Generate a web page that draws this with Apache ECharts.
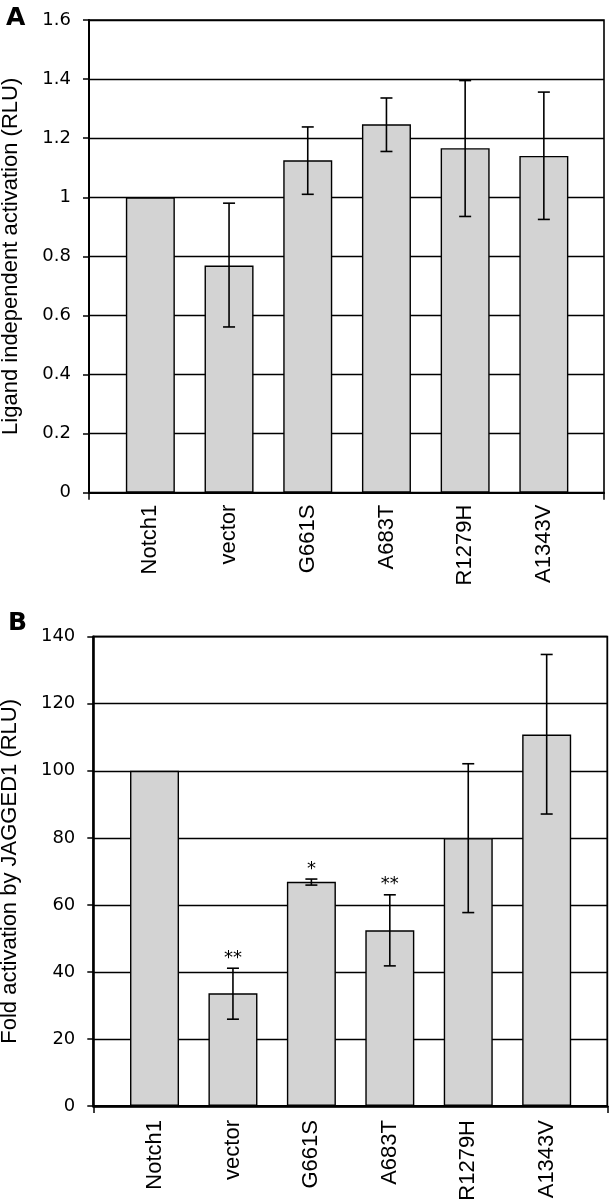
<!DOCTYPE html>
<html>
<head>
<meta charset="utf-8">
<script src="https://cdn.jsdelivr.net/npm/echarts@6/dist/echarts.min.js"></script>
<style>
html,body{margin:0;padding:0;background:#fff;}
#chart{width:610px;height:1199px;}
</style>
</head>
<body>
<div id="chart"></div>
<script>
const categories = ['Notch1', 'vector', 'G661S', 'A683T', 'R1279H', 'A1343V'];

// Panel A: ligand independent activation (RLU)
const valuesA = [1.0, 0.769, 1.125, 1.247, 1.166, 1.14];
const errLowA = [null, 0.561, 1.01, 1.155, 0.935, 0.925];
const errHighA = [null, 0.98, 1.238, 1.336, 1.395, 1.356];
const yTicksA = [0, 0.2, 0.4, 0.6, 0.8, 1, 1.2, 1.4, 1.6];

// Panel B: fold activation by JAGGED1 (RLU)
const valuesB = [100, 33.6, 66.9, 52.4, 79.9, 110.8];
const errLowB = [null, 25.9, 65.9, 41.8, 57.7, 87.1];
const errHighB = [null, 41.1, 67.7, 63.0, 102.1, 134.7];
const starsB = ['', '**', '*', '**', '', ''];
const yTicksB = [0, 20, 40, 60, 80, 100, 120, 140];

const titleA = 'Ligand independent activation (RLU)';
const titleB = 'Fold activation by JAGGED1 (RLU)';

const chart = echarts.init(document.getElementById('chart'), null, {renderer: 'canvas'});

function errData(lo, hi, stars) {
  const out = [];
  for (let i = 0; i < lo.length; i++) {
    if (lo[i] == null) continue;
    out.push([i, lo[i], hi[i], stars ? stars[i] : '']);
  }
  return out;
}

function errRender(params, api) {
  const x = api.value(0);
  const pLo = api.coord([x, api.value(1)]);
  const pHi = api.coord([x, api.value(2)]);
  const half = 6;
  const st = {stroke: '#000', lineWidth: 1.6};
  const children = [
    {type: 'line', shape: {x1: pLo[0], y1: pLo[1], x2: pHi[0], y2: pHi[1]}, style: st},
    {type: 'line', shape: {x1: pLo[0] - half, y1: pLo[1], x2: pLo[0] + half, y2: pLo[1]}, style: st},
    {type: 'line', shape: {x1: pHi[0] - half, y1: pHi[1], x2: pHi[0] + half, y2: pHi[1]}, style: st}
  ];
  const star = api.value(3);
  if (star) {
    children.push({type: 'text', style: {text: star, x: pHi[0], y: pHi[1] - 1, textAlign: 'center', textVerticalAlign: 'bottom', font: '18px "DejaVu Sans"', fill: '#000'}});
  }
  return {type: 'group', children};
}

const yLabelStyle = {color: '#000', fontFamily: 'DejaVu Sans', fontSize: 18, margin: 18};
const xLabelStyle = {color: '#000', fontFamily: 'Liberation Sans', fontSize: 22, rotate: 90};
const nameStyle = {color: '#000', fontFamily: 'Liberation Sans', fontSize: 22};

const option = {
  animation: false,
  backgroundColor: '#fff',
  title: [
    {text: 'A', left: 1, top: 1, textStyle: {fontFamily: 'DejaVu Sans', fontWeight: 'bold', fontSize: 25, color: '#000'}},
    {text: 'B', left: 3, top: 606, textStyle: {fontFamily: 'DejaVu Sans', fontWeight: 'bold', fontSize: 25, color: '#000'}}
  ],
  grid: [
    {left: 89, top: 20, width: 515, height: 472.7, show: true, borderColor: '#000', borderWidth: 1.6, backgroundColor: 'transparent', containLabel: false, outerBoundsMode: 'none'},
    {left: 111, top: 20, width: 472.2, height: 472.7, containLabel: false, outerBoundsMode: 'none'},
    {left: 93.3, top: 636.7, width: 514, height: 469.3, show: true, borderColor: '#000', borderWidth: 1.8, backgroundColor: 'transparent', containLabel: false, outerBoundsMode: 'none'},
    {left: 115.3, top: 636.7, width: 470.6, height: 469.3, containLabel: false, outerBoundsMode: 'none'}
  ],
  xAxis: [
    {gridIndex: 0, type: 'value', min: 0, max: 1, interval: 1,
     axisLine: {show: true, onZero: false, lineStyle: {color: '#000', width: 2}},
     axisTick: {show: true, length: 7, lineStyle: {color: '#000', width: 1.5}},
     axisLabel: {show: false}, splitLine: {show: false}},
    {gridIndex: 1, type: 'category', data: categories,
     axisLine: {show: false}, axisTick: {show: false},
     axisLabel: Object.assign({margin: 12}, xLabelStyle)},
    {gridIndex: 2, type: 'value', min: 0, max: 1, interval: 1,
     axisLine: {show: true, onZero: false, lineStyle: {color: '#000', width: 2.5}},
     axisTick: {show: true, length: 7, lineStyle: {color: '#000', width: 1.5}},
     axisLabel: {show: false}, splitLine: {show: false}},
    {gridIndex: 3, type: 'category', data: categories,
     axisLine: {show: false}, axisTick: {show: false},
     axisLabel: Object.assign({margin: 14}, xLabelStyle)}
  ],
  yAxis: [
    {gridIndex: 0, type: 'value', min: yTicksA[0], max: yTicksA[yTicksA.length - 1], interval: yTicksA[1] - yTicksA[0],
     name: titleA, nameLocation: 'middle', nameGap: 67, nameTextStyle: nameStyle,
     axisLine: {show: true, lineStyle: {color: '#000', width: 2}},
     axisTick: {show: true, length: 6, lineStyle: {color: '#000', width: 1.5}},
     axisLabel: yLabelStyle,
     splitLine: {show: true, lineStyle: {color: '#000', width: 1.3}}},
    {gridIndex: 1, type: 'value', min: yTicksA[0], max: yTicksA[yTicksA.length - 1], show: false, splitLine: {show: false}},
    {gridIndex: 2, type: 'value', min: yTicksB[0], max: yTicksB[yTicksB.length - 1], interval: yTicksB[1] - yTicksB[0],
     name: titleB, nameLocation: 'middle', nameGap: 72, nameTextStyle: nameStyle,
     axisLine: {show: true, lineStyle: {color: '#000', width: 2.5}},
     axisTick: {show: true, length: 6, lineStyle: {color: '#000', width: 1.5}},
     axisLabel: yLabelStyle,
     splitLine: {show: true, lineStyle: {color: '#000', width: 1.3}}},
    {gridIndex: 3, type: 'value', min: yTicksB[0], max: yTicksB[yTicksB.length - 1], show: false, splitLine: {show: false}}
  ],
  series: [
    {type: 'bar', xAxisIndex: 1, yAxisIndex: 1, data: valuesA, barWidth: 49,
     itemStyle: {color: '#d3d3d3', borderColor: '#000', borderWidth: 1.4}},
    {type: 'custom', xAxisIndex: 1, yAxisIndex: 1, data: errData(errLowA, errHighA), renderItem: errRender, z: 5},
    {type: 'bar', xAxisIndex: 3, yAxisIndex: 3, data: valuesB, barWidth: 49,
     itemStyle: {color: '#d3d3d3', borderColor: '#000', borderWidth: 1.4}},
    {type: 'custom', xAxisIndex: 3, yAxisIndex: 3, data: errData(errLowB, errHighB, starsB), renderItem: errRender, z: 5}
  ]
};
chart.setOption(option);
</script>
</body>
</html>
